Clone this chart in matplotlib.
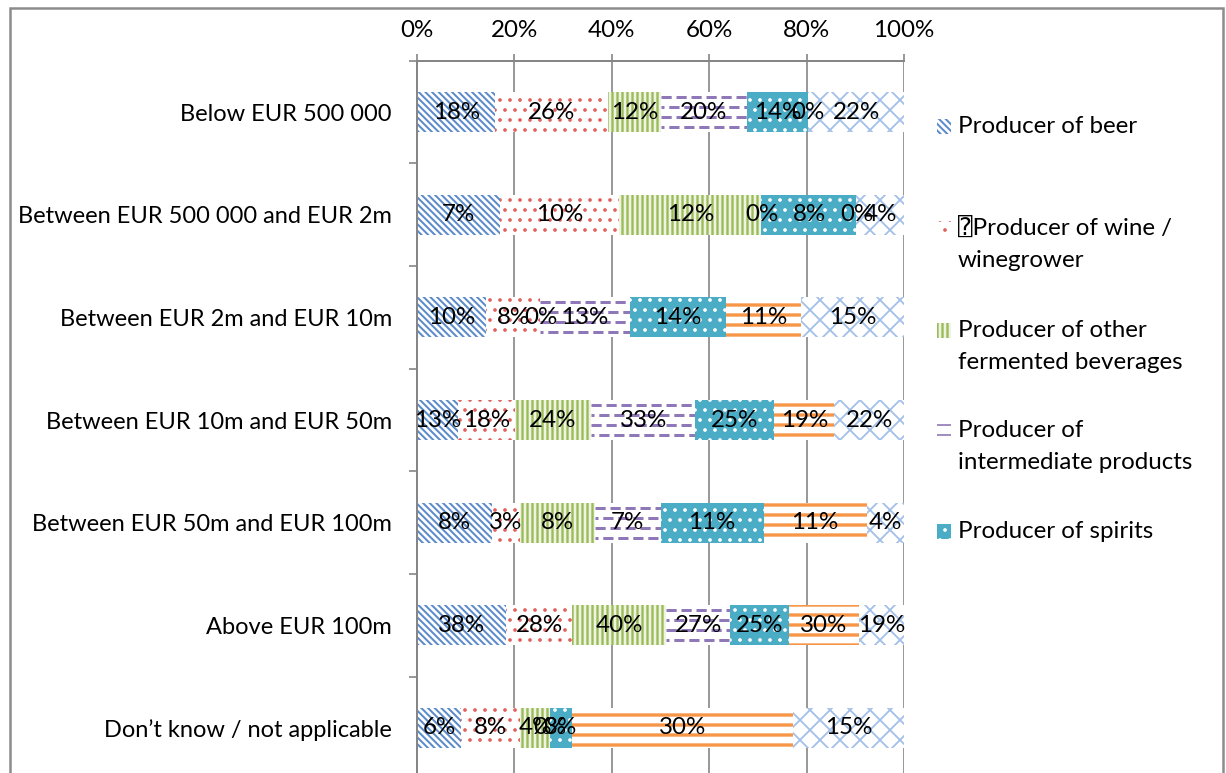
import numpy as np
import matplotlib
matplotlib.use("Agg")
import matplotlib.pyplot as plt
from matplotlib.patches import Rectangle

# ---------------- data ----------------
categories = [
    "Below EUR 500 000",
    "Between EUR 500 000 and EUR 2m",
    "Between EUR 2m and EUR 10m",
    "Between EUR 10m and EUR 50m",
    "Between EUR 50m and EUR 100m",
    "Above EUR 100m",
    "Don\u2019t know / not applicable",
]
beer = [18, 7, 10, 13, 8, 38, 6]
wine = [26, 10, 8, 18, 3, 28, 8]
other_fermented = [12, 12, 0, 24, 8, 40, 4]
intermediate = [20, 0, 13, 33, 7, 27, 0]
spirits = [14, 8, 14, 25, 11, 25, 3]
series6 = [0, 0, 11, 19, 11, 30, 30]
series7 = [22, 4, 15, 22, 4, 19, 15]

legend_labels = [
    "Producer of beer",
    "\u2370Producer of wine /\nwinegrower",
    "Producer of other\nfermented beverages",
    "Producer of\nintermediate products",
    "Producer of spirits",
]
x_ticks = [0, 20, 40, 60, 80, 100]
x_ticklabels = ["0%", "20%", "40%", "60%", "80%", "100%"]

# ---------------- styling ----------------
FONT = ["Lato", "DejaVu Sans"]
plt.rcParams["font.family"] = FONT
FS = 14.5
FS_CAT = 14.2
DPI = 120
W, H = 1226, 773
GRID = "#868686"

styles = [
    dict(face="white", edge="#5B8BC9", hatch="\\" * 6, hlw=1.2),      # beer
    dict(face="white", edge="#E0605E", hatch="..", hlw=1.0),           # wine
    dict(face="#EEF3E2", edge="#9BBB59", hatch="||||", hlw=1.4),       # other fermented
    dict(face="white", edge="#8F78B8", hatch=None, hlw=1.0),           # intermediate (dashed)
    dict(face="#4BACC6", edge="white", hatch="..", hlw=1.0),           # spirits
    dict(face="white", edge="#F79646", hatch="--", hlw=2.0),           # series 6
    dict(face="white", edge="#A3C0E8", hatch="xx", hlw=1.1),           # series 7
]

fig = plt.figure(figsize=(W / DPI, H / DPI), dpi=DPI)
fig.patch.set_facecolor("white")

ax_top_px, ax_bot_px = 60.7, 779.3
ax_left_px, ax_right_px = 417, 904
ax = fig.add_axes([ax_left_px / W, 1 - ax_bot_px / H,
                   (ax_right_px - ax_left_px) / W, (ax_bot_px - ax_top_px) / H])

series = [beer, wine, other_fermented, intermediate, spirits, series6, series7]
n = len(categories)
y = np.arange(n)
totals = np.sum(np.array(series, dtype=float), axis=0)
left = np.zeros(n)
BAR_H = 0.39

for idx, (vals, st) in enumerate(zip(series, styles)):
    vals = np.array(vals, dtype=float)
    share = vals / totals * 100.0
    with plt.rc_context({"hatch.linewidth": st["hlw"]}):
        cont = ax.barh(y, share, left=left, height=BAR_H, color=st["face"],
                       edgecolor=st["edge"], hatch=st["hatch"], linewidth=0, zorder=2)
    for p in cont.patches:
        if hasattr(p, "set_hatch_linewidth"):
            p.set_hatch_linewidth(st["hlw"])
    if st["hatch"] is None:
        # dashed horizontal pattern, clipped to each bar
        for rect in cont.patches:
            if rect.get_width() <= 0:
                continue
            x0, y0 = rect.get_x(), rect.get_y()
            w, h = rect.get_width(), rect.get_height()
            for k in range(4):
                yy = y0 + h * (k + 0.5) / 4
                off = 0 if k % 2 == 0 else 2.4
                ln, = ax.plot([x0, x0 + w], [yy, yy], color=st["edge"], lw=1.8,
                              linestyle=(off, (3.4, 1.6)), zorder=3,
                              dash_capstyle="butt")
                ln.set_clip_path(rect)
    ax.bar_label(cont, labels=[f"{int(v)}%" for v in vals], label_type="center",
                 fontsize=FS, color="black", zorder=6)
    left += share

ax.set_xlim(0, 100)
ax.set_ylim(n - 0.5, -0.5)

# x axis on top
ax.xaxis.tick_top()
ax.set_xticks(x_ticks)
ax.set_xticklabels(x_ticklabels, fontsize=FS)
ax.tick_params(axis="x", which="major", direction="out", length=4.2, width=1,
               color=GRID, pad=7.5)
ax.grid(axis="x", color=GRID, linewidth=1.0, zorder=0)
ax.set_axisbelow(True)

# y axis
ax.set_yticks(y)
ax.set_yticklabels(categories, fontsize=FS_CAT)
ax.set_yticks(np.arange(-0.5, n, 1.0), minor=True)
ax.tick_params(axis="y", which="major", length=0, pad=15)
ax.tick_params(axis="y", which="minor", length=4.8, width=1, color=GRID, direction="out")

for s in ["bottom", "right"]:
    ax.spines[s].set_visible(False)
for s in ["top", "left"]:
    ax.spines[s].set_color(GRID)
    ax.spines[s].set_linewidth(1.2)

# figure frame
fig.patches.append(Rectangle((10 / W, -0.2), (1223 - 10) / W, 1.2 - 8 / H,
                             transform=fig.transFigure, fill=False,
                             edgecolor="#8C8C8C", linewidth=1.5, zorder=10))

# legend (manual); baselines of the first line of each entry
leg_marker_x = 937
leg_text_x = 958
leg_first_baselines = [133, 235, 337, 437, 538]
LINE_GAP = 32
for lab, st, base in zip(legend_labels, styles[:5], leg_first_baselines):
    mk = Rectangle((leg_marker_x / W, 1 - (base + 1) / H), 14 / W, 15 / H,
                   transform=fig.transFigure, facecolor=st["face"],
                   edgecolor=st["edge"], hatch=st["hatch"] if st["hatch"] else "--",
                   linewidth=0)
    if hasattr(mk, "set_hatch_linewidth"):
        mk.set_hatch_linewidth(st["hlw"])
    fig.patches.append(mk)
    for i, line in enumerate(lab.split("\n")):
        fig.text(leg_text_x / W, 1 - (base + i * LINE_GAP) / H, line, fontsize=FS,
                 va="baseline", ha="left",
                 family=["Lato", "DejaVu Sans", "DejaVu Sans Mono"])

fig.savefig("out.png", dpi=DPI)
